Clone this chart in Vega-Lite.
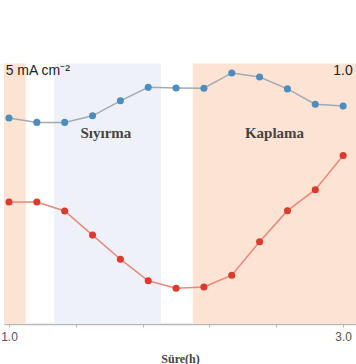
{
  "$schema": "https://vega.github.io/schema/vega-lite/v6.json",
  "width": 356,
  "height": 364,
  "autosize": {"type": "fit", "contains": "padding"},
  "padding": 0,
  "config": {"view": {"stroke": null}},
  "data": {
    "values": [
      {"kind": "s", "t": 1.0, "value": 65.8, "series": "Seri B"},
      {"kind": "s", "t": 1.1667, "value": 64.4, "series": "Seri B"},
      {"kind": "s", "t": 1.3333, "value": 64.4, "series": "Seri B"},
      {"kind": "s", "t": 1.5, "value": 66.5, "series": "Seri B"},
      {"kind": "s", "t": 1.6667, "value": 71.3, "series": "Seri B"},
      {"kind": "s", "t": 1.8333, "value": 75.6, "series": "Seri B"},
      {"kind": "s", "t": 2.0, "value": 75.4, "series": "Seri B"},
      {"kind": "s", "t": 2.1667, "value": 75.3, "series": "Seri B"},
      {"kind": "s", "t": 2.3333, "value": 80.2, "series": "Seri B"},
      {"kind": "s", "t": 2.5, "value": 78.9, "series": "Seri B"},
      {"kind": "s", "t": 2.6667, "value": 75.1, "series": "Seri B"},
      {"kind": "s", "t": 2.8333, "value": 70.2, "series": "Seri B"},
      {"kind": "s", "t": 3.0, "value": 69.6, "series": "Seri B"},
      {"kind": "s", "t": 1.0, "value": 39.0, "series": "Seri A"},
      {"kind": "s", "t": 1.1667, "value": 39.0, "series": "Seri A"},
      {"kind": "s", "t": 1.3333, "value": 36.1, "series": "Seri A"},
      {"kind": "s", "t": 1.5, "value": 28.4, "series": "Seri A"},
      {"kind": "s", "t": 1.6667, "value": 20.7, "series": "Seri A"},
      {"kind": "s", "t": 1.8333, "value": 13.8, "series": "Seri A"},
      {"kind": "s", "t": 2.0, "value": 11.4, "series": "Seri A"},
      {"kind": "s", "t": 2.1667, "value": 11.8, "series": "Seri A"},
      {"kind": "s", "t": 2.3333, "value": 15.6, "series": "Seri A"},
      {"kind": "s", "t": 2.5, "value": 26.3, "series": "Seri A"},
      {"kind": "s", "t": 2.6667, "value": 36.2, "series": "Seri A"},
      {"kind": "s", "t": 2.8333, "value": 42.9, "series": "Seri A"},
      {"kind": "s", "t": 3.0, "value": 53.8, "series": "Seri A"},
      {"kind": "kaplama", "t": 0.97, "t2": 1.1, "value": 0, "value2": 83.2},
      {"kind": "siyirma", "t": 1.27, "t2": 1.91, "value": 0, "value2": 83.2},
      {"kind": "kaplama", "t": 2.1, "t2": 3.077, "value": 0, "value2": 83.2},
      {"kind": "phase", "t": 1.58, "value": 59.5, "label": "Sıyırma"},
      {"kind": "phase", "t": 2.589, "value": 59.5, "label": "Kaplama"},
      {"kind": "current", "t": 0.98, "value": 79.5, "label": "5 mA cm⁻²"},
      {"kind": "current", "t": 2.941, "value": 79.5, "label": "1.0"}
    ]
  },
  "layer": [
    {
      "transform": [{"filter": "datum.kind == 'kaplama'"}],
      "mark": {"type": "rect", "color": "#fce3d4"},
      "encoding": {
        "x": {"field": "t", "type": "quantitative", "scale": {"domain": [0.97, 3.077], "nice": false}},
        "x2": {"field": "t2"},
        "y": {"field": "value", "type": "quantitative", "scale": {"domain": [0, 103.5], "nice": false}, "axis": null},
        "y2": {"field": "value2"}
      }
    },
    {
      "transform": [{"filter": "datum.kind == 'siyirma'"}],
      "mark": {"type": "rect", "color": "#eef2f8"},
      "encoding": {
        "x": {"field": "t", "type": "quantitative"},
        "x2": {"field": "t2"},
        "y": {"field": "value", "type": "quantitative", "axis": null},
        "y2": {"field": "value2"}
      }
    },
    {
      "transform": [{"filter": "datum.kind == 's' && datum.series == 'Seri B'"}],
      "mark": {"type": "line", "strokeWidth": 1.5, "color": "#a3abb2"},
      "encoding": {
        "x": {
          "field": "t", "type": "quantitative", "title": "Süre(h)",
          "axis": {
            "values": [1.0, 1.1, 1.2, 1.3, 1.4, 1.5, 1.6, 1.7, 1.8, 1.9, 2.0, 2.1, 2.2, 2.3, 2.4, 2.5, 2.6, 2.7, 2.8, 2.9, 3.0],
            "labelExpr": "abs(datum.value * 2 - round(datum.value * 2)) < 0.001 ? format(datum.value, '.1f') : ''",
            "labelOverlap": false,
            "grid": false,
            "domainColor": "#b8b8b8",
            "domainWidth": 1.5,
            "tickColor": "#b8b8b8",
            "tickSize": 3,
            "labelColor": "#555555",
            "labelFont": "Liberation Sans",
            "labelFontSize": 12,
            "labelPadding": 4,
            "titleFont": "Liberation Serif",
            "titleFontSize": 12,
            "titleFontWeight": "bold",
            "titleColor": "#444444",
            "titlePadding": 11
          }
        },
        "y": {"field": "value", "type": "quantitative", "axis": null}
      }
    },
    {
      "transform": [{"filter": "datum.kind == 's' && datum.series == 'Seri A'"}],
      "mark": {"type": "line", "strokeWidth": 1.5, "color": "#e8887a"},
      "encoding": {
        "x": {"field": "t", "type": "quantitative"},
        "y": {"field": "value", "type": "quantitative", "axis": null}
      }
    },
    {
      "transform": [{"filter": "datum.kind == 's'"}],
      "mark": {"type": "point", "filled": true, "size": 50, "opacity": 1},
      "encoding": {
        "x": {"field": "t", "type": "quantitative"},
        "y": {"field": "value", "type": "quantitative", "axis": null},
        "color": {
          "field": "series", "type": "nominal",
          "scale": {"domain": ["Seri A", "Seri B"], "range": ["#d93b2d", "#4d8dbd"]},
          "legend": null
        }
      }
    },
    {
      "transform": [{"filter": "datum.kind == 'phase'"}],
      "mark": {"type": "text", "font": "Liberation Serif", "fontSize": 15, "fontWeight": "bold", "color": "#444444", "align": "center", "baseline": "alphabetic"},
      "encoding": {
        "x": {"field": "t", "type": "quantitative"},
        "y": {"field": "value", "type": "quantitative", "axis": null},
        "text": {"field": "label"}
      }
    },
    {
      "transform": [{"filter": "datum.kind == 'current'"}],
      "mark": {"type": "text", "font": "Liberation Sans", "fontSize": 14, "color": "#222222", "align": "left", "baseline": "alphabetic"},
      "encoding": {
        "x": {"field": "t", "type": "quantitative"},
        "y": {"field": "value", "type": "quantitative", "axis": null},
        "text": {"field": "label"}
      }
    }
  ]
}
